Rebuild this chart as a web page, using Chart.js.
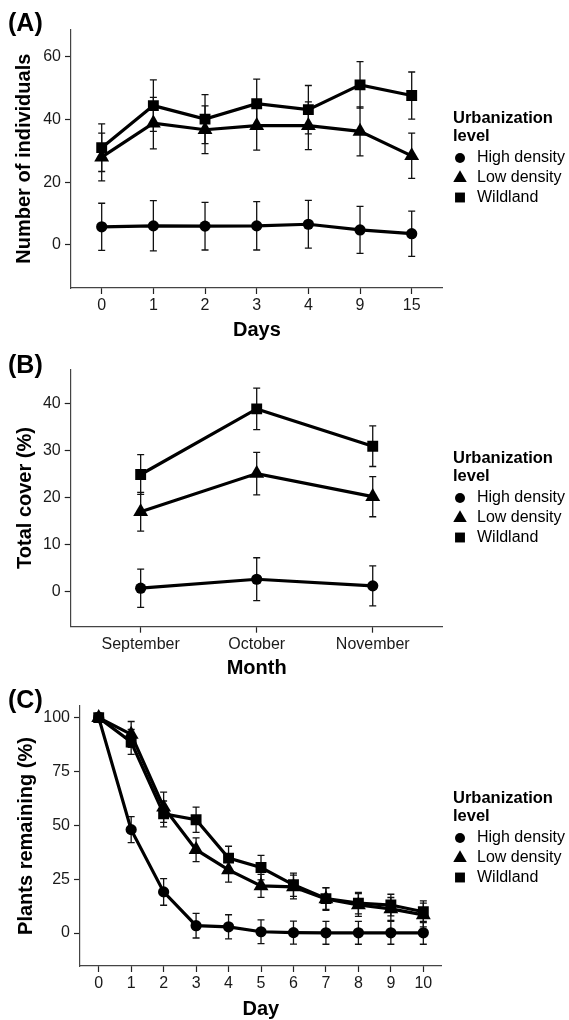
<!DOCTYPE html>
<html>
<head>
<meta charset="utf-8">
<script src="https://cdn.jsdelivr.net/npm/chart.js@4.4.1/dist/chart.umd.min.js"></script>
<style>
  body { margin: 0; background: #fff; }
  .panel { position: absolute; left: 0; }
</style>
</head>
<body>
<canvas id="chartA" class="panel" style="top:0px" width="569" height="340"></canvas>
<canvas id="chartB" class="panel" style="top:340px" width="569" height="340"></canvas>
<canvas id="chartC" class="panel" style="top:680px" width="569" height="340"></canvas>
<script>
// shared legend
const seriesNames = ['High density', 'Low density', 'Wildland'];
const legendTitle = ['Urbanization', 'level'];

// (A) number of individuals per day
const daysA = ['0', '1', '2', '3', '4', '9', '15'];
const highA = [5.8, 6.1, 6.0, 6.1, 6.6, 4.8, 3.6];
const highAErr = [7.5, 8.0, 7.6, 7.7, 7.6, 7.5, 7.2];
const lowA = [28.0, 38.8, 36.7, 38.0, 38.0, 36.2, 28.4];
const lowAErr = [7.6, 8.2, 7.6, 7.8, 7.6, 7.8, 7.2];
const wildA = [31.0, 44.4, 40.1, 45.0, 43.1, 51.0, 47.6];
const wildAErr = [7.6, 8.2, 7.8, 7.8, 7.7, 7.4, 7.5];
const yTicksA = [0, 20, 40, 60];

// (B) total cover per month
const monthsB = ['September', 'October', 'November'];
const highB = [0.8, 2.7, 1.3];
const highBErr = [4.05, 4.55, 4.25];
const lowB = [17.0, 25.1, 20.2];
const lowBErr = [4.1, 4.5, 4.25];
const wildB = [24.9, 38.8, 30.9];
const wildBErr = [4.2, 4.4, 4.3];
const yTicksB = [0, 10, 20, 30, 40];

// (C) plants remaining per day
const daysC = ['0', '1', '2', '3', '4', '5', '6', '7', '8', '9', '10'];
const highC = [100, 48.0, 19.1, 3.4, 2.9, 0.6, 0.2, 0.1, 0.1, 0.1, 0.1];
const highCErr = [2, 6.0, 6.2, 5.7, 5.6, 5.5, 5.3, 5.3, 5.3, 5.3, 5.3];
const lowC = [100, 92.2, 58.4, 38.7, 29.3, 21.9, 21.4, 15.8, 13.0, 11.2, 8.4];
const lowCErr = [2, 6.0, 7.0, 5.5, 5.7, 5.3, 5.5, 5.3, 5.3, 5.3, 5.5];
const wildC = [100, 88.7, 55.3, 52.6, 34.8, 30.4, 22.4, 16.0, 13.9, 13.0, 9.9];
const wildCErr = [2, 5.8, 6.0, 5.9, 5.5, 5.7, 5.4, 5.0, 5.0, 5.0, 5.0];
const yTicksC = [0, 25, 50, 75, 100];

const FONT = "'Liberation Sans', Arial, sans-serif";
const styles = ['circle', 'triangle', 'rect'];
const radii = [5.6, 8.6, 7.7];

const errorBars = {
  id: 'errorBars',
  beforeDatasetsDraw(chart) {
    const ctx = chart.ctx;
    const xs = chart.scales.x, ys = chart.scales.y;
    ctx.save();
    ctx.strokeStyle = '#111';
    ctx.lineWidth = 1.3;
    chart.data.datasets.forEach(ds => {
      ds.data.forEach((v, i) => {
        const x = xs.getPixelForValue(i);
        const top = ys.getPixelForValue(v + ds.err[i]);
        const bot = ys.getPixelForValue(v - ds.err[i]);
        ctx.beginPath();
        ctx.moveTo(x, top); ctx.lineTo(x, bot);
        ctx.moveTo(x - 3.5, top); ctx.lineTo(x + 3.5, top);
        ctx.moveTo(x - 3.5, bot); ctx.lineTo(x + 3.5, bot);
        ctx.stroke();
      });
    });
    ctx.restore();
  }
};

const sideLegend = {
  id: 'sideLegend',
  afterDraw(chart, args, opts) {
    const ctx = chart.ctx;
    ctx.save();
    ctx.fillStyle = '#000';
    ctx.textBaseline = 'middle';
    ctx.font = 'bold 16.5px ' + FONT;
    ctx.fillText(legendTitle[0], 453, 118);
    ctx.fillText(legendTitle[1], 453, 136);
    ctx.font = '16px ' + FONT;
    const ys = [158, 178, 197.5];
    const legR = [5, 7.8, 7];
    chart.data.datasets.forEach((ds, i) => {
      Chart.helpers.drawPoint(ctx, {pointStyle: styles[i], radius: legR[i], rotation: 0, borderWidth: 0}, 460, ys[i]);
      ctx.fillText(ds.label, 477, ys[i]);
    });
    // panel tag
    ctx.font = 'bold 25px ' + FONT;
    ctx.textBaseline = 'alphabetic';
    ctx.fillText(opts.tag, 8, opts.tagY);
    ctx.restore();
  }
};

function makePanel(id, o) {
  const tickFont = {family: FONT, size: 16};
  const titleFont = {family: FONT, size: 20, weight: 'bold', lineHeight: 1};
  const datasets = o.series.map((s, i) => ({
    label: seriesNames[i],
    data: s[0],
    err: s[1],
    borderColor: '#000',
    borderWidth: 3.2,
    pointStyle: styles[i],
    pointRadius: radii[i],
    pointBackgroundColor: '#000',
    pointBorderColor: '#000',
    pointBorderWidth: 0,
    tension: 0
  }));
  return new Chart(document.getElementById(id), {
    type: 'line',
    data: {
      labels: o.labels.map((_, i) => i),
      datasets: datasets
    },
    options: {
      responsive: false,
      animation: false,
      devicePixelRatio: 1,
      layout: {padding: {left: 0, top: o.area.t, right: 569 - o.area.r, bottom: 0}},
      plugins: {
        legend: {display: false},
        tooltip: {enabled: false},
        sideLegend: {tag: o.tag, tagY: o.tagY}
      },
      scales: {
        x: {
          type: 'linear',
          min: o.xRange[0],
          max: o.xRange[1],
          afterBuildTicks: s => { s.ticks = o.labels.map((_, i) => ({value: i})); },
          afterFit: s => { s.height = 340 - o.area.b; },
          ticks: {
            callback: v => o.labels[v],
            autoSkip: false,
            maxRotation: 0,
            font: tickFont,
            color: '#1a1a1a',
            padding: 2
          },
          grid: {drawOnChartArea: false, drawTicks: true, tickLength: 6, color: '#222', tickWidth: 1.2},
          border: {display: true, color: '#444', width: 1.2},
          title: {display: true, text: o.xTitle, font: titleFont, color: '#000', padding: {top: 0, bottom: o.xTitlePad}}
        },
        y: {
          type: 'linear',
          min: o.yRange[0],
          max: o.yRange[1],
          afterBuildTicks: s => { s.ticks = o.yTicks.map(v => ({value: v})); },
          afterFit: s => { s.width = o.area.l; },
          ticks: {font: tickFont, color: '#1a1a1a', padding: 4},
          grid: {drawOnChartArea: false, drawTicks: true, tickLength: 6, color: '#222', tickWidth: 1.2},
          border: {display: true, color: '#444', width: 1.2},
          title: {display: true, text: o.yTitle, font: titleFont, color: '#000', padding: {top: o.yTitlePad, bottom: 0}}
        }
      }
    },
    plugins: [errorBars, sideLegend]
  });
}

makePanel('chartA', {
  labels: daysA,
  series: [[highA, highAErr], [lowA, lowAErr], [wildA, wildAErr]],
  yTicks: yTicksA,
  yRange: [-13.7, 68.7],
  xRange: [-0.594, 6.6],
  area: {l: 71, t: 29.3, r: 442.7, b: 288},
  xTitle: 'Days', xTitlePad: 0,
  yTitle: 'Number of individuals', yTitlePad: 14.5,
  tag: '(A)', tagY: 31
});

makePanel('chartB', {
  labels: monthsB,
  series: [[highB, highBErr], [lowB, lowBErr], [wildB, wildBErr]],
  yTicks: yTicksB,
  yRange: [-7.36, 47.2],
  xRange: [-0.603, 2.603],
  area: {l: 70.7, t: 29.3, r: 442.7, b: 286.7},
  xTitle: 'Month', xTitlePad: 1.7,
  yTitle: 'Total cover (%)', yTitlePad: 15,
  tag: '(B)', tagY: 33
});

makePanel('chartC', {
  labels: daysC,
  series: [[highC, highCErr], [lowC, lowCErr], [wildC, wildCErr]],
  yTicks: yTicksC,
  yRange: [-15.3, 105.4],
  xRange: [-0.576, 10.566],
  area: {l: 80, t: 26, r: 441.7, b: 286},
  xTitle: 'Day', xTitlePad: 1,
  yTitle: 'Plants remaining (%)', yTitlePad: 16.5,
  tag: '(C)', tagY: 28
});
</script>
</body>
</html>
